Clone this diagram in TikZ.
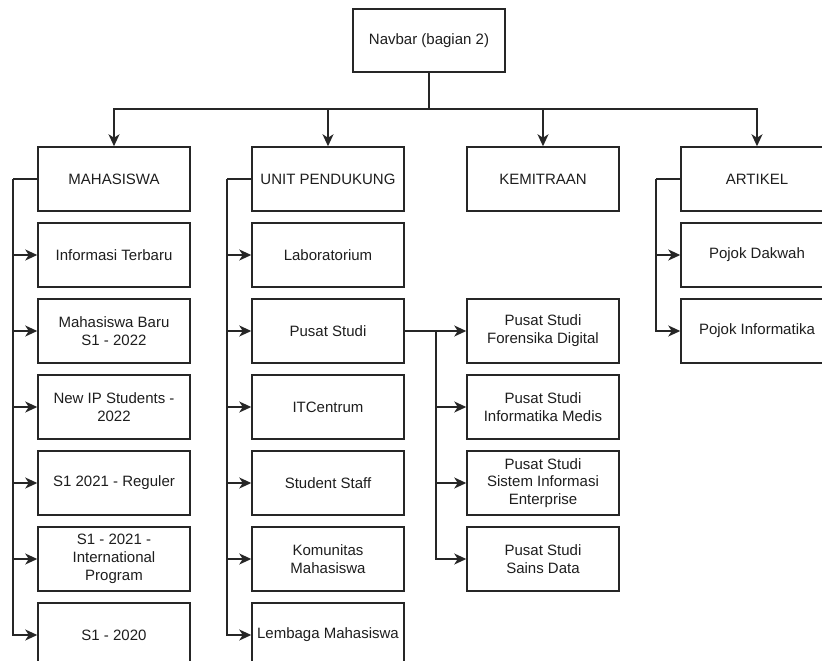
\documentclass[tikz,border=0pt]{standalone}
\usepackage{fontspec}
\setmainfont{Liberation Sans}
\usetikzlibrary{arrows.meta}
\definecolor{txt}{HTML}{1E1E1E}
\begin{document}
\begin{tikzpicture}[x=1pt,y=-1pt,
  box/.style={draw=black!85, line width=1.5pt, rectangle, minimum width=152pt, minimum height=64pt,
    align=center, inner sep=2pt, text=txt, font=\fontsize{15}{17.8}\selectfont, fill=white},
  arr/.style={draw=black!85, line width=1.5pt, -{Stealth[length=12pt,width=11pt,inset=3.5pt]}},
  ln/.style={draw=black!85, line width=1.5pt}]
\useasboundingbox (0,0) rectangle (822,661);
\clip (0,0) rectangle (822,661);
\fill[white] (0,0) rectangle (822,661);
% top
\node[box, minimum width=152pt, minimum height=63pt] (nav) at (429,40.5) {Navbar (bagian 2)};
\node[box] (mhs) at (114,179) {MAHASISWA};
\node[box] (unit) at (328,179) {UNIT PENDUKUNG};
\node[box] (kem) at (543,179) {KEMITRAAN};
\node[box] (art) at (757,179) {ARTIKEL};
% mahasiswa children
\node[box] (m1) at (114,255) {Informasi Terbaru};
\node[box] (m2) at (114,331) {Mahasiswa Baru\\S1 - 2022};
\node[box] (m3) at (114,407) {New IP Students -\\2022};
\node[box] (m4) at (114,483) {S1 2021 - Reguler};
\node[box] (m5) at (114,559) {S1 - 2021 -\\International\\Program};
\node[box] (m6) at (114,635) {S1 - 2020};
% unit children
\node[box] (u1) at (328,255) {Laboratorium};
\node[box] (u2) at (328,331) {Pusat Studi};
\node[box] (u3) at (328,407) {ITCentrum};
\node[box] (u4) at (328,483) {Student Staff};
\node[box] (u5) at (328,559) {Komunitas\\Mahasiswa};
\node[box] (u6) at (328,635) {Lembaga Mahasiswa};
% pusat studi children
\node[box] (p1) at (543,331) {Pusat Studi\\Forensika Digital};
\node[box] (p2) at (543,407) {Pusat Studi\\Informatika Medis};
\node[box] (p3) at (543,483) {Pusat Studi\\Sistem Informasi\\Enterprise};
\node[box] (p4) at (543,559) {Pusat Studi\\Sains Data};
% artikel children
\node[box] (a1) at (757,255) {Pojok Dakwah};
\node[box] (a2) at (757,331) {Pojok Informatika};
% connectors
\coordinate (bus) at (429,109);
\draw[ln] (nav.south) -- (bus);
\draw[arr] (bus) -| (mhs.north);
\draw[arr] (bus) -| (unit.north);
\draw[arr] (bus) -| (kem.north);
\draw[arr] (bus) -| (art.north);
\coordinate (mt) at (13,179);
\draw[ln] (mhs.west) -- (mt);
\foreach \c in {m1,m2,m3,m4,m5,m6} \draw[arr] (mt) |- (\c.west);
\coordinate (ut) at (227,179);
\draw[ln] (unit.west) -- (ut);
\foreach \c in {u1,u2,u3,u4,u5,u6} \draw[arr] (ut) |- (\c.west);
\coordinate (pt) at (436,331);
\draw[ln] (u2.east) -- (pt);
\foreach \c in {p1,p2,p3,p4} \draw[arr] (pt) |- (\c.west);
\coordinate (at) at (656,179);
\draw[ln] (art.west) -- (at);
\foreach \c in {a1,a2} \draw[arr] (at) |- (\c.west);
\end{tikzpicture}
\end{document}
